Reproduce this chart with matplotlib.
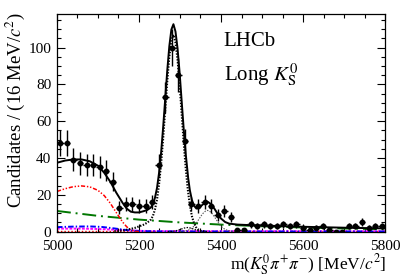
import numpy as np
import matplotlib
matplotlib.use("Agg")
import matplotlib.pyplot as plt

# ============================================================================
# DATA
# ============================================================================

bin_edges = np.arange(5000, 5801, 16)
counts = [48, 48, 39, 37, 36, 36, 35, 33, 27, 13,
          15, 15, 14, 14, 16, 36, 73, 100, 85, 49,
          15, 14, 16, 14, 9, 11, 8, 1, 1, 4,
          3, 4, 3, 3, 4, 3, 4, 2, 1, 2,
          3, 1, 0, 0, 3, 3, 5, 2, 3, 3]

# total fit
tot_x = [5000, 5020, 5040, 5060, 5080, 5100, 5115, 5130, 5145, 5160,
         5170, 5180, 5190, 5200, 5210, 5220, 5229, 5234, 5239, 5244,
         5249, 5254, 5259, 5264, 5269, 5274, 5279, 5284, 5289, 5294,
         5299, 5304, 5309, 5314, 5320, 5324, 5329, 5334, 5340, 5346,
         5352, 5360, 5368, 5376, 5384, 5392, 5400, 5410, 5420, 5440,
         5460, 5500, 5600, 5700, 5800]
tot_y = [37.4, 38.6, 39.2, 39.2, 38.2, 35.8, 32.0, 27.1, 21.0, 15.6,
         12.5, 10.8, 10.4, 10.4, 11.0, 11.7, 13.1, 15.0, 18.4, 23.8,
         32.0, 43.1, 56.9, 72.3, 87.7, 100.8, 109.8, 112.7, 108.7, 99.6,
         86.6, 71.1, 55.8, 42.1, 29.0, 22.5, 17.2, 14.1, 12.5, 12.8,
         14.0, 15.6, 16.1, 14.9, 12.4, 9.6, 7.1, 5.2, 4.3, 3.8,
         3.6, 3.3, 2.6, 2.1, 1.7]

# B0 signal
sig_x = [5140, 5160, 5175, 5190, 5200, 5210, 5220, 5229, 5234, 5239,
         5244, 5249, 5254, 5259, 5264, 5269, 5274, 5279, 5284, 5289,
         5294, 5299, 5304, 5309, 5314, 5319, 5324, 5329, 5334, 5339,
         5344, 5349, 5354, 5364]
sig_y = [0.3, 0.6, 1.2, 2.0, 2.8, 3.6, 4.8, 6.5, 8.5, 12.0,
         17.5, 25.8, 37.0, 50.8, 66.3, 81.8, 95.0, 104.0, 107.0, 102.7,
         93.5, 80.0, 64.3, 48.5, 34.4, 22.9, 14.3, 8.4, 4.7, 2.4,
         1.2, 0.5, 0.2, 0.0]

# Bs signal
bs_x = [5300, 5310, 5320, 5327, 5332, 5337, 5342, 5347, 5352, 5357,
        5362, 5367, 5372, 5377, 5382, 5387, 5392, 5397, 5402, 5407,
        5417, 5427, 5440]
bs_y = [0.0, 0.2, 0.7, 1.6, 2.5, 3.7, 5.3, 7.0, 8.7, 10.1,
        11.1, 11.5, 11.1, 10.1, 8.7, 7.0, 5.3, 3.7, 2.5, 1.6,
        0.5, 0.1, 0.0]

# small misidentified peak
mis_x = [5270, 5280, 5290, 5300, 5310, 5318, 5326, 5336, 5346, 5356, 5366]
mis_y = [0.0, 0.1, 0.4, 1.1, 1.9, 2.2, 1.9, 1.1, 0.4, 0.1, 0.0]

# partially reconstructed background
prt_x = [5000, 5020, 5040, 5060, 5080, 5100, 5115, 5130, 5145, 5160,
         5170, 5180, 5190, 5200]
prt_y = [21.8, 23.3, 24.4, 24.8, 24.3, 22.4, 19.6, 15.4, 10.2, 5.2,
         2.6, 0.9, 0.2, 0.0]

# combinatorial background
comb_x = [5000, 5100, 5200, 5300, 5400, 5500, 5600, 5700, 5800]
comb_y = [11.2, 8.53, 6.50, 4.96, 3.78, 2.88, 2.20, 1.67, 1.28]

# other small backgrounds
blue_x = [5000, 5040, 5080, 5110, 5140, 5170, 5200, 5240, 5300, 5800]
blue_y = [2.4, 2.7, 2.8, 2.5, 1.7, 0.8, 0.3, 0.1, 0.05, 0.05]

mag_x = [5000, 5060, 5100, 5150, 5200, 5260, 5800]
mag_y = [1.6, 1.6, 1.4, 0.9, 0.4, 0.2, 0.15]

red_low_x = [5000, 5800]
red_low_y = [0.2, 0.2]

# ============================================================================
# PLOT
# ============================================================================

plt.rcParams['font.family'] = ['Liberation Serif', 'DejaVu Serif']
plt.rcParams['mathtext.fontset'] = 'stix'
plt.rcParams['lines.scale_dashes'] = False

fig = plt.figure(figsize=(4.07, 2.76), dpi=100)
ax = fig.add_axes([0.140, 0.161, 0.806, 0.790])

ax.plot(red_low_x, red_low_y, color='red', lw=1.0, ls=(0, (1, 1.5)))
ax.plot(mag_x, mag_y, color='magenta', lw=1.4, ls=(0, (2, 1)))
ax.plot(blue_x, blue_y, color='blue', lw=1.4, ls=(0, (4, 1.5, 1, 1.5)))
ax.plot(comb_x, comb_y, color='#007700', lw=1.4, ls=(0, (10, 3.5, 1.4, 3.5)))
ax.plot(prt_x, prt_y, color='red', lw=1.1, ls=(0, (3, 1.3, 1, 1.3, 1, 1.3)))
ax.plot(mis_x, mis_y, color='black', lw=0.9, ls=(0, (1, 1)))
ax.plot(bs_x, bs_y, color='#555555', lw=0.8, ls=(0, (1, 1)))
ax.plot(sig_x, sig_y, color='black', lw=1.5, ls=(0, (1, 1.1)))
ax.plot(tot_x, tot_y, color='black', lw=1.4)

centers = 0.5 * (bin_edges[:-1] + bin_edges[1:])
counts = np.array(counts)
ax.errorbar(centers, counts, xerr=8, yerr=np.sqrt(counts), fmt='o',
            color='black', ms=3.2, elinewidth=1.0, capsize=0)

ax.set_xlim(5000, 5800)
ax.set_ylim(0, 118.5)
ax.set_xticks([5000, 5200, 5400, 5600, 5800])
ax.set_xticks(np.arange(5000, 5801, 50), minor=True)
ax.set_yticks([0, 20, 40, 60, 80, 100])
ax.set_yticks(np.arange(0, 118, 5), minor=True)
ax.tick_params(which='both', direction='in', top=True, right=True,
               labelsize=11, width=0.8)
ax.tick_params(which='major', length=6)
ax.tick_params(which='minor', length=3)
ax.tick_params(axis='x', which='major', pad=6)
ax.tick_params(axis='y', which='major', pad=4)
for s in ax.spines.values():
    s.set_linewidth(0.9)

fig.text(0.038, 0.955, r'Candidates / (16 MeV/$c^{2}$)', rotation=90,
         ha='center', va='top', fontsize=13.5)
fig.text(0.950, 0.024, r'm($K^{0}_{\rm S}\pi^{+}\pi^{-}$) [MeV/$c^{2}$]',
         ha='right', va='baseline', fontsize=12.5)

ax.text(0.508, 0.85, 'LHCb', transform=ax.transAxes, fontsize=15,
        ha='left', va='baseline')
ax.text(0.508, 0.695, r'Long $K^{0}_{\rm S}$', transform=ax.transAxes,
        fontsize=15, ha='left', va='baseline')

fig.savefig('out.png', dpi=100)
